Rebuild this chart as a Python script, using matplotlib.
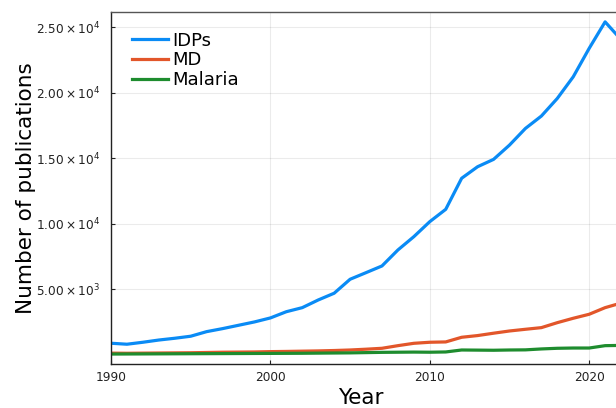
import matplotlib
matplotlib.use("Agg")
import matplotlib.pyplot as plt
import numpy as np

# data
years = np.arange(1990, 2023)
idps = [885, 810, 960, 1130, 1265, 1420, 1770, 2000, 2255, 2510, 2815,
        3290, 3600, 4185, 4700, 5765, 6270, 6780, 8000, 9015, 10160, 11100,
        13470, 14350, 14910, 16000, 17270, 18215, 19560, 21210, 23380, 25400,
        24050]
md = [130, 120, 130, 140, 150, 160, 180, 200, 210, 220, 245,
      260, 280, 300, 330, 370, 430, 500, 700, 880, 960, 985,
      1340, 1470, 1650, 1820, 1950, 2075, 2455, 2790, 3095, 3600,
      3950]
malaria = [60, 65, 70, 75, 80, 85, 90, 95, 100, 105, 110,
           115, 120, 130, 140, 150, 170, 190, 200, 210, 200, 220,
           370, 360, 350, 370, 380, 450, 500, 520, 520, 700,
           720]

series_names = ["IDPs", "MD", "Malaria"]
series_colors = ["#0a8bf5", "#e2562a", "#1e8c2e"]

yticks = [5000, 10000, 15000, 20000, 25000]
ytick_labels = [r"$5.00\times10^{3}$", r"$1.00\times10^{4}$", r"$1.50\times10^{4}$",
                r"$2.00\times10^{4}$", r"$2.50\times10^{4}$"]
xticks = [1990, 2000, 2010, 2020]

fig = plt.figure(figsize=(6.16, 4.08), dpi=100)
ax = fig.add_axes([0.1802, 0.1078, 0.828, 0.8627])

for vals, name, col in zip([idps, md, malaria], series_names, series_colors):
    ax.plot(years, vals, color=col, lw=2.3, label=name)

ax.set_xlim(1990, 2022)
ax.set_ylim(-700, 26150)
ax.set_xticks(xticks)
ax.set_yticks(yticks)
ax.set_yticklabels(ytick_labels)
ax.tick_params(direction="in", length=3, width=0.8, labelsize=8.7, colors="#222222")
ax.tick_params(axis="y", pad=8)
ax.tick_params(axis="x", pad=5)
ax.grid(True, color="black", alpha=0.08, lw=0.8)

for s in ["left", "bottom"]:
    ax.spines[s].set_color("#222222")
    ax.spines[s].set_linewidth(1.0)
ax.spines["top"].set_color("#555555")
ax.spines["top"].set_linewidth(1.0)
ax.spines["right"].set_visible(False)

ax.set_xlabel("Year", fontsize=15.5)
ax.set_ylabel("Number of publications", fontsize=15.5)
ax.xaxis.set_label_coords(0.49, -0.068)
ax.yaxis.set_label_coords(-0.148, 0.5)

ax.legend(loc="upper left", bbox_to_anchor=(0.027, 0.965), frameon=False,
          fontsize=13, handlelength=2.0, handletextpad=0.25, labelspacing=0.1,
          borderaxespad=0.0)

fig.savefig("out.png", dpi=100)
